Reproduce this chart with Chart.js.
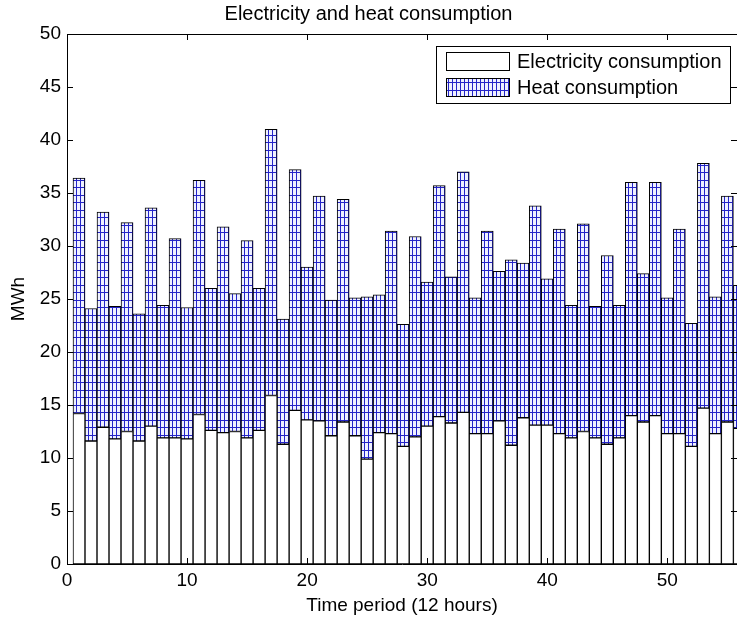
<!DOCTYPE html>
<html>
<head>
<meta charset="utf-8">
<title>Electricity and heat consumption</title>
<script src="https://cdn.jsdelivr.net/npm/chart.js@4.4.1/dist/chart.umd.min.js"></script>
<style>
    html, body {
        margin: 0;
        padding: 0;
        background: #fff;
        overflow: hidden;
    }
    #chart-wrap {
        width: 737px;
        height: 623px;
    }
</style>
</head>
<body>
<div id="chart-wrap">
    <canvas id="consumptionChart" width="737" height="623"></canvas>
</div>
<script>
// Chart data (MWh per 12 hour period)
const periods = [1, 2, 3, 4, 5, 6, 7, 8, 9, 10, 11, 12, 13, 14, 15, 16, 17, 18, 19, 20,
    21, 22, 23, 24, 25, 26, 27, 28, 29, 30, 31, 32, 33, 34, 35, 36, 37, 38, 39, 40,
    41, 42, 43, 44, 45, 46, 47, 48, 49, 50, 51, 52, 53, 54, 55, 56];

const electricity = [14.2, 11.6, 12.9, 11.8, 12.5, 11.6, 13.0, 11.9, 11.9, 11.8,
    14.1, 12.6, 12.4, 12.5, 11.9, 12.6, 15.9, 11.3, 14.5, 13.6,
    13.5, 12.1, 13.4, 12.1, 9.9, 12.4, 12.3, 11.1, 12.0, 13.0,
    13.9, 13.3, 14.3, 12.3, 12.3, 13.5, 11.2, 13.8, 13.1, 13.1,
    12.3, 11.9, 12.5, 11.9, 11.3, 11.9, 14.0, 13.4, 14.0, 12.3,
    12.3, 11.1, 14.7, 12.3, 13.4, 12.8];

const heat = [22.2, 12.5, 20.3, 12.5, 19.7, 12.0, 20.6, 12.5, 18.8, 12.4,
    22.1, 13.4, 19.4, 13.0, 18.6, 13.4, 25.1, 11.8, 22.7, 14.4,
    21.2, 12.8, 21.0, 13.0, 15.3, 13.0, 19.1, 11.5, 18.9, 13.6,
    21.8, 13.8, 22.7, 12.8, 19.1, 14.1, 17.5, 14.6, 20.7, 13.8,
    19.3, 12.5, 19.6, 12.4, 17.8, 12.5, 22.0, 14.0, 22.0, 12.8,
    19.3, 11.6, 23.1, 12.9, 21.3, 13.5];

const seriesNames = ['Electricity consumption', 'Heat consumption'];
const xTicks = [0, 10, 20, 30, 40, 50];
const yTicks = [0, 5, 10, 15, 20, 25, 30, 35, 40, 45, 50];

const FONT = "'Liberation Sans', Arial, sans-serif";

// Blue grid hatch used for the heat bars
function makeHatch() {
    const tile = document.createElement('canvas');
    tile.width = 4;
    tile.height = 15;
    const t = tile.getContext('2d');
    t.fillStyle = '#eef0ff';
    t.fillRect(0, 0, 4, 15);
    t.fillStyle = '#2424c8';
    t.fillRect(0, 0, 1, 15);
    t.fillRect(0, 0, 4, 1);
    t.fillRect(0, 7, 4, 1);
    return t.createPattern(tile, 'repeat');
}

// Box on top / right plus inward ticks on every side, like the original plot
const framePlugin = {
    id: 'frame',
    afterDatasetsDraw(chart) {
        const ctx = chart.ctx;
        const area = chart.chartArea;
        const xs = chart.scales.x;
        const ys = chart.scales.y;
        const len = 6;
        ctx.save();
        ctx.strokeStyle = '#000';
        ctx.lineWidth = 1;
        ctx.beginPath();
        ctx.moveTo(area.left, Math.round(area.top) + 0.5);
        ctx.lineTo(area.right, Math.round(area.top) + 0.5);
        xTicks.forEach(v => {
            const px = Math.round(xs.getPixelForValue(v)) + 0.5;
            ctx.moveTo(px, area.bottom);
            ctx.lineTo(px, area.bottom - len);
            ctx.moveTo(px, area.top);
            ctx.lineTo(px, area.top + len);
        });
        yTicks.forEach(v => {
            const py = Math.round(ys.getPixelForValue(v)) + 0.5;
            ctx.moveTo(area.left, py);
            ctx.lineTo(area.left + len, py);
            ctx.moveTo(area.right, py);
            ctx.lineTo(area.right - len, py);
        });
        ctx.stroke();
        ctx.restore();
    }
};

// Legend box in the upper right corner of the axes
const legendPlugin = {
    id: 'boxLegend',
    afterDraw(chart) {
        const ctx = chart.ctx;
        const sets = chart.data.datasets;
        const box = { x: 436.5, y: 46.5, w: 294, h: 57 };
        ctx.save();
        ctx.fillStyle = '#fff';
        ctx.fillRect(box.x, box.y, box.w, box.h);
        ctx.strokeStyle = '#000';
        ctx.lineWidth = 1;
        ctx.strokeRect(box.x, box.y, box.w, box.h);

        ctx.font = '20px ' + FONT;
        ctx.textBaseline = 'middle';
        ctx.textAlign = 'left';
        sets.forEach((ds, i) => {
            const top = 52.5 + i * 26;
            ctx.fillStyle = ds.backgroundColor;
            ctx.fillRect(446.5, top, 63, 18);
            ctx.strokeStyle = '#000';
            ctx.strokeRect(446.5, top, 63, 18);
            ctx.fillStyle = '#000';
            ctx.fillText(ds.label, 517, top + 9.5);
        });
        ctx.restore();
    }
};

function initConsumptionChart() {
    const ctx = document.getElementById('consumptionChart').getContext('2d');
    const hatch = makeHatch();

    const barStyle = {
        borderColor: '#000',
        borderWidth: 1,
        borderSkipped: false,
        barPercentage: 1,
        categoryPercentage: 1
    };

    new Chart(ctx, {
        type: 'bar',
        data: {
            datasets: [
                Object.assign({
                    label: seriesNames[0],
                    data: periods.map((p, i) => ({ x: p, y: electricity[i] })),
                    backgroundColor: '#fff'
                }, barStyle),
                Object.assign({
                    label: seriesNames[1],
                    data: periods.map((p, i) => ({ x: p, y: heat[i] })),
                    backgroundColor: hatch
                }, barStyle)
            ]
        },
        options: {
            responsive: false,
            animation: false,
            layout: { padding: 0 },
            plugins: {
                legend: { display: false },
                tooltip: { enabled: false },
                title: {
                    display: true,
                    text: 'Electricity and heat consumption',
                    color: '#000',
                    font: { family: FONT, size: 20, weight: 'normal' },
                    padding: { top: 2, bottom: 8 }
                }
            },
            scales: {
                x: {
                    type: 'linear',
                    stacked: true,
                    min: 0,
                    max: 55.8,
                    offset: false,
                    grid: { display: false, drawTicks: false },
                    border: { display: true, color: '#000' },
                    ticks: {
                        color: '#000',
                        padding: 5,
                        maxRotation: 0,
                        font: { family: FONT, size: 19 }
                    },
                    afterBuildTicks: function(scale) {
                        scale.ticks = xTicks.map(v => ({ value: v }));
                    },
                    afterFit: function(scale) {
                        scale.height = 59;
                    },
                    title: {
                        display: true,
                        text: 'Time period (12 hours)',
                        color: '#000',
                        font: { family: FONT, size: 19 },
                        padding: { top: 0, bottom: 6 }
                    }
                },
                y: {
                    stacked: true,
                    min: 0,
                    max: 50,
                    grid: { display: false, drawTicks: false },
                    border: { display: true, color: '#000' },
                    ticks: {
                        color: '#000',
                        padding: 6,
                        font: { family: FONT, size: 19 }
                    },
                    afterBuildTicks: function(scale) {
                        scale.ticks = yTicks.map(v => ({ value: v }));
                    },
                    afterFit: function(scale) {
                        scale.width = 67;
                    },
                    title: {
                        display: true,
                        text: 'MWh',
                        color: '#000',
                        font: { family: FONT, size: 19 },
                        padding: { top: 7, bottom: 0 }
                    }
                }
            }
        },
        plugins: [framePlugin, legendPlugin]
    });
}

document.addEventListener('DOMContentLoaded', function() {
    initConsumptionChart();
});
</script>
</body>
</html>
